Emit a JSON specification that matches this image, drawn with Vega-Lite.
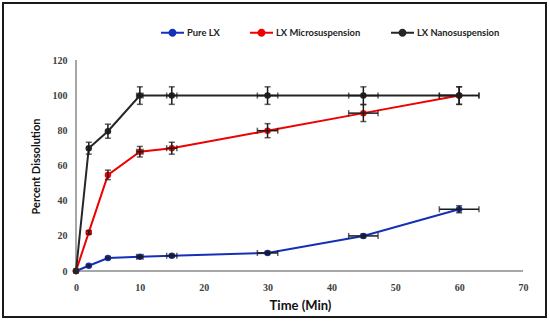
{
  "$schema": "https://vega.github.io/schema/vega-lite/v6.json",
  "width": 543,
  "height": 314,
  "autosize": {"type": "none"},
  "padding": {"left": 3, "top": 3, "right": 4, "bottom": 6},
  "background": "white",
  "config": {
    "view": {"stroke": "#1a1a1a", "strokeWidth": 2},
    "axis": {"domain": false, "ticks": false, "grid": false, "labelFont": "Liberation Serif", "labelFontWeight": "bold", "labelFontSize": 10, "labelColor": "#404040", "titleFont": "Lato", "titleFontWeight": "bold", "titleColor": "#111"}
  },
  "data": {"values": [
    {"s": "Pure LX", "t": 0, "v": 0, "ey": 0, "ex": 0},
    {"s": "Pure LX", "t": 2, "v": 3, "ey": 0.5, "ex": 0},
    {"s": "Pure LX", "t": 5, "v": 7.4, "ey": 0.5, "ex": 0},
    {"s": "Pure LX", "t": 10, "v": 8.1, "ey": 0.8, "ex": 0.5},
    {"s": "Pure LX", "t": 15, "v": 8.7, "ey": 0.8, "ex": 0.8},
    {"s": "Pure LX", "t": 30, "v": 10.3, "ey": 0.8, "ex": 1.6},
    {"s": "Pure LX", "t": 45, "v": 20, "ey": 1, "ex": 2.3},
    {"s": "Pure LX", "t": 60, "v": 35.2, "ey": 2, "ex": 3.1},
    {"s": "LX Microsuspension", "t": 0, "v": 0, "ey": 0, "ex": 0},
    {"s": "LX Microsuspension", "t": 2, "v": 22, "ey": 1, "ex": 0},
    {"s": "LX Microsuspension", "t": 5, "v": 54.8, "ey": 2.7, "ex": 0},
    {"s": "LX Microsuspension", "t": 10, "v": 68, "ey": 3, "ex": 0.5},
    {"s": "LX Microsuspension", "t": 15, "v": 70, "ey": 3.4, "ex": 0.8},
    {"s": "LX Microsuspension", "t": 30, "v": 80, "ey": 4, "ex": 1.6},
    {"s": "LX Microsuspension", "t": 45, "v": 90, "ey": 4.8, "ex": 2.3},
    {"s": "LX Microsuspension", "t": 60, "v": 100, "ey": 5, "ex": 3.1},
    {"s": "LX Nanosuspension", "t": 0, "v": 0, "ey": 0, "ex": 0},
    {"s": "LX Nanosuspension", "t": 2, "v": 70, "ey": 3.4, "ex": 0},
    {"s": "LX Nanosuspension", "t": 5, "v": 79.7, "ey": 4, "ex": 0},
    {"s": "LX Nanosuspension", "t": 10, "v": 100, "ey": 5, "ex": 0.5},
    {"s": "LX Nanosuspension", "t": 15, "v": 100, "ey": 5, "ex": 0.8},
    {"s": "LX Nanosuspension", "t": 30, "v": 100, "ey": 5, "ex": 1.6},
    {"s": "LX Nanosuspension", "t": 45, "v": 100, "ey": 5, "ex": 2.3},
    {"s": "LX Nanosuspension", "t": 60, "v": 100, "ey": 5, "ex": 3.1}
  ]},
  "layer": [
    {
      "mark": {"type": "rule", "color": "#a6a6a6", "strokeWidth": 1},
      "encoding": {"x": {"datum": 0, "type": "quantitative", "title": "Time (Min)"}, "x2": {"datum": 70}, "y": {"datum": 0, "type": "quantitative", "title": "Percent Dissolution"}}
    },
    {
      "mark": {"type": "rule", "color": "#a6a6a6", "strokeWidth": 1},
      "encoding": {"x": {"datum": 0, "type": "quantitative", "title": "Time (Min)"}, "y": {"datum": 0, "type": "quantitative", "title": "Percent Dissolution"}, "y2": {"datum": 120}}
    },
    {
      "mark": {"type": "line", "strokeWidth": 2, "point": {"filled": true, "size": 42}},
      "encoding": {
        "x": {"field": "t", "type": "quantitative", "scale": {"domain": [-11.43, 73.6], "nice": false, "zero": false},
              "axis": {"values": [0, 10, 20, 30, 40, 50, 60, 70], "offset": -46, "labelPadding": 11, "titleFontSize": 13, "titleX": 297, "titleY": 34, "titleBaseline": "middle", "titleAlign": "center"}, "title": "Time (Min)"},
        "y": {"field": "v", "type": "quantitative", "scale": {"domain": [-26.22, 152.78], "nice": false, "zero": false},
              "axis": {"values": [0, 20, 40, 60, 80, 100, 120], "offset": -73, "labelPadding": 9, "titleFontSize": 11, "titleAngle": -90, "titleX": -40, "titleY": 163, "titleBaseline": "middle", "titleAlign": "center"}, "title": "Percent Dissolution"},
        "color": {"field": "s", "type": "nominal",
                  "scale": {"domain": ["Pure LX", "LX Microsuspension", "LX Nanosuspension"], "range": ["#1530b8", "#f00000", "#262626"]},
                  "legend": {"orient": "none", "direction": "horizontal", "legendX": 157, "legendY": 17, "title": null,
                             "symbolType": "M-1,0H1M-0.26,0A0.26,0.26,0,1,1,0.26,0A0.26,0.26,0,1,1,-0.26,0Z",
                             "symbolSize": 529, "symbolStrokeWidth": 2, "labelFont": "Lato", "labelFontWeight": "bold", "labelFontSize": 9.4, "labelColor": "#222", "labelOffset": 2, "columnPadding": 26, "padding": 0,
                             "encode": {"symbols": {"update": {"fill": {"scale": "color", "field": "value"}, "stroke": {"scale": "color", "field": "value"}}}}}}
      }
    },
    {
      "mark": {"type": "errorbar", "color": "#1a1a1a", "thickness": 1.5, "ticks": {"size": 6, "thickness": 1.5}},
      "transform": [{"filter": "datum.ey > 0"}],
      "encoding": {
        "x": {"field": "t", "type": "quantitative", "title": "Time (Min)"},
        "y": {"field": "v", "type": "quantitative", "title": "Percent Dissolution"},
        "yError": {"field": "ey"}
      }
    },
    {
      "mark": {"type": "errorbar", "color": "#1a1a1a", "thickness": 1.5, "ticks": {"size": 6, "thickness": 1.5}},
      "transform": [{"filter": "datum.ex > 0"}],
      "encoding": {
        "y": {"field": "v", "type": "quantitative", "title": "Percent Dissolution"},
        "x": {"field": "t", "type": "quantitative", "title": "Time (Min)"},
        "xError": {"field": "ex"}
      }
    }
  ]
}
